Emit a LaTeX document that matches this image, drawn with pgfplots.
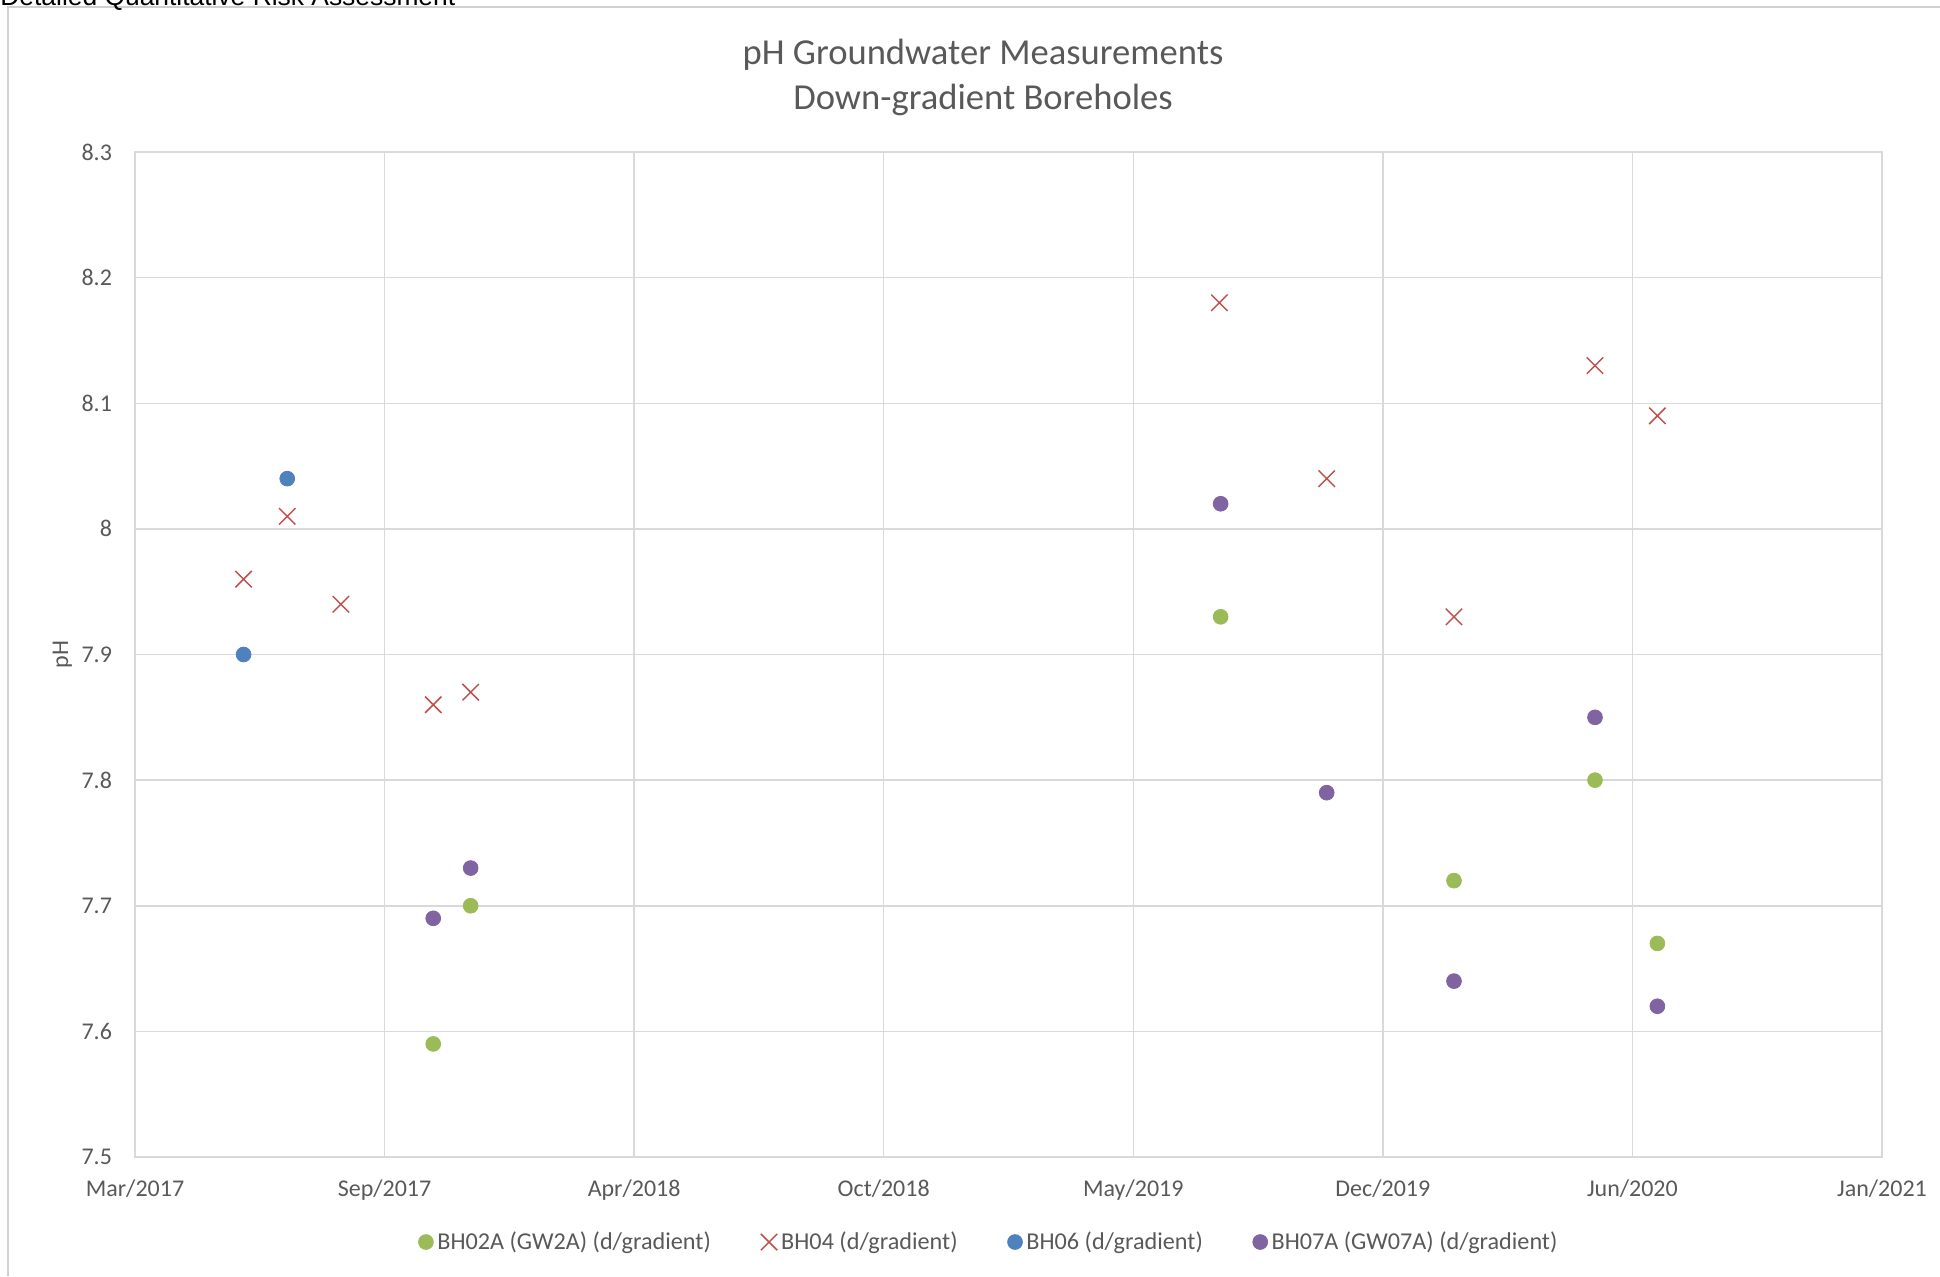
\documentclass[border=0pt]{standalone}
\usepackage{fontspec}
\setmainfont{Carlito}
\newfontfamily\arialfont{Liberation Sans}
\usepackage{pgfplots}
\pgfplotsset{compat=1.18}
\definecolor{txtgray}{HTML}{595959}
\definecolor{gridgray}{HTML}{D9D9D9}
\definecolor{framegray}{HTML}{D0D0D0}
\definecolor{xlgreen}{HTML}{9BBB59}
\definecolor{xlred}{HTML}{C0504D}
\definecolor{xlblue}{HTML}{4F81BD}
\definecolor{xlpurple}{HTML}{8064A2}
\begin{document}
\begin{tikzpicture}
\useasboundingbox (0,0) rectangle (970pt,638pt);
% page frame and cut header
\draw[framegray, line width=1pt] (4pt,0) -- (4pt,634.3pt) -- (970pt,634.3pt);
\node[anchor=base west, inner sep=0, font=\arialfont\fontsize{13.2}{15}\selectfont]
    at (0,635.1pt) {Detailed Quantitative Risk Assessment};
% title
\node[align=center, text=txtgray, font=\fontsize{18.3}{22.5}\selectfont]
    at (491.5pt,599.5pt) {pH Groundwater Measurements\\Down-gradient Boreholes};
\begin{axis}[
    at               = {(67.5pt,59.5pt)},
    anchor           = south west,
    scale only axis,
    width            = 873.5pt,
    height           = 502.5pt,
    xmin = 0, xmax = 1400,
    ymin = 7.5, ymax = 8.3,
    xtick            = {0,200,400,600,800,1000,1200,1400},
    xticklabels      = {Mar/2017,Sep/2017,Apr/2018,Oct/2018,May/2019,Dec/2019,Jun/2020,Jan/2021},
    ytick            = {7.5,7.6,7.7,7.8,7.9,8,8.1,8.2,8.3},
    yticklabels      = {7.5,7.6,7.7,7.8,7.9,8,8.1,8.2,8.3},
    major tick length = 0pt,
    grid             = major,
    grid style       = {gridgray, line width=0.75pt},
    axis line style  = {gridgray, line width=0.75pt},
    tick label style = {text=txtgray, font=\fontsize{12}{14}\selectfont},
    xticklabel style = {yshift=-8pt},
    yticklabel style = {xshift=-8pt},
    ylabel           = {pH},
    ylabel style     = {text=txtgray, font=\fontsize{12}{14}\selectfont, at={(axis description cs:-0.032,0.5)}},
    legend columns   = 4,
    legend style     = {draw=none, at={(0.4894,-0.0846)}, anchor=center,
                        font=\fontsize{12.1}{14}\selectfont, text=txtgray,
                        /tikz/every even column/.append style={column sep=23pt}},
    legend cell align = left,
    clip = false,
]
\addplot[only marks, mark=*, mark size=3.7pt, color=xlgreen] coordinates {
    (239,7.59) (269,7.70) (870,7.93) (1057,7.72) (1170,7.80) (1220,7.67)
};
\addlegendentry{BH02A (GW2A) (d/gradient)}
\addplot[only marks, mark=x, mark size=5.8pt, color=xlred, mark options={line width=0.75pt}] coordinates {
    (87,7.96) (122,8.01) (165,7.94) (239,7.86) (269,7.87)
    (869,8.18) (955,8.04) (1057,7.93) (1170,8.13) (1220,8.09)
};
\addlegendentry{BH04 (d/gradient)}
\addplot[only marks, mark=*, mark size=3.7pt, color=xlblue] coordinates {
    (87,7.90) (122,8.04)
};
\addlegendentry{BH06 (d/gradient)}
\addplot[only marks, mark=*, mark size=3.7pt, color=xlpurple] coordinates {
    (239,7.69) (269,7.73) (870,8.02) (955,7.79) (1057,7.64) (1170,7.85) (1220,7.62)
};
\addlegendentry{BH07A (GW07A) (d/gradient)}
\end{axis}
\end{tikzpicture}
\end{document}
